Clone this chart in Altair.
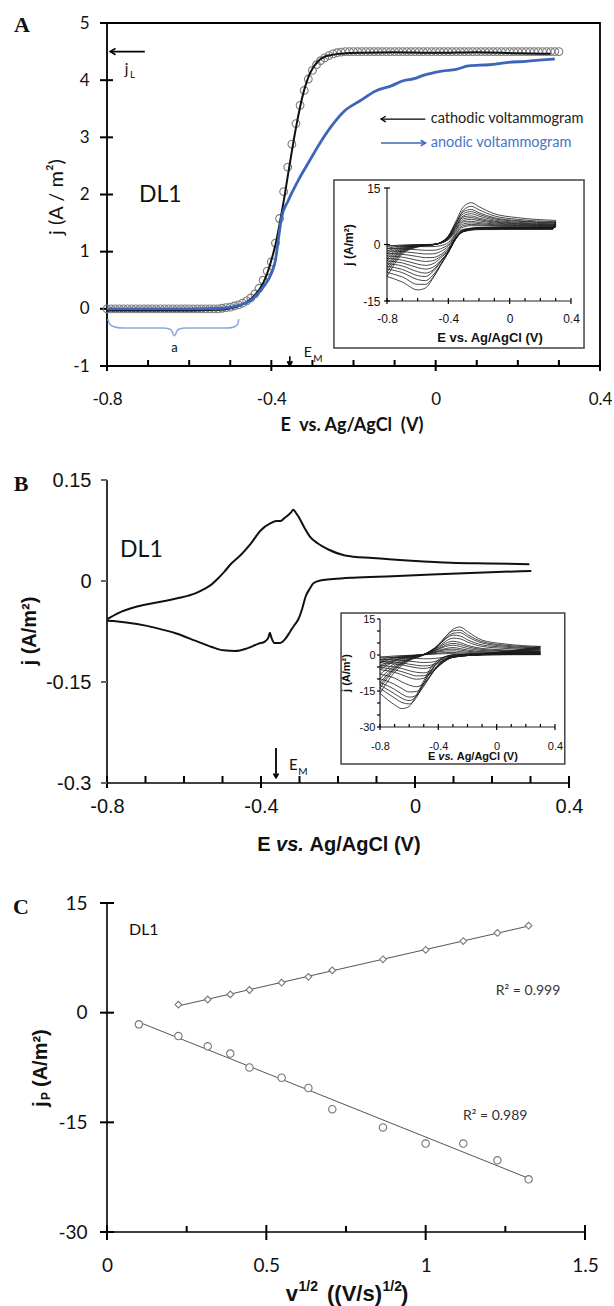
import altair as alt
import pandas as pd

W, H = 614, 1306

# ---------------- Panel A : main voltammograms ----------------
A_circle_E = [-0.80, -0.79, -0.78, -0.77, -0.76, -0.75, -0.74, -0.73, -0.72, -0.71,
              -0.70, -0.69, -0.68, -0.67, -0.66, -0.65, -0.64, -0.63, -0.62, -0.61,
              -0.60, -0.59, -0.58, -0.57, -0.56, -0.55, -0.54, -0.53, -0.52, -0.51,
              -0.50, -0.49, -0.48, -0.47, -0.46, -0.45, -0.44, -0.43, -0.42, -0.41,
              -0.40, -0.39, -0.38, -0.37, -0.36, -0.35, -0.34, -0.33, -0.32, -0.31,
              -0.30, -0.29, -0.28, -0.27, -0.26, -0.25, -0.24, -0.23, -0.22, -0.21,
              -0.20, -0.19, -0.18, -0.17, -0.16, -0.15, -0.14, -0.13, -0.12, -0.11,
              -0.10, -0.09, -0.08, -0.07, -0.06, -0.05, -0.04, -0.03, -0.02, -0.01,
              0.00, 0.01, 0.02, 0.03, 0.04, 0.05, 0.06, 0.07, 0.08, 0.09,
              0.10, 0.11, 0.12, 0.13, 0.14, 0.15, 0.16, 0.17, 0.18, 0.19,
              0.20, 0.21, 0.22, 0.23, 0.24, 0.25, 0.26, 0.27, 0.28, 0.29, 0.30]
A_circle_j = ([0.0] * 28 +
              [0.01, 0.02, 0.03, 0.05, 0.07, 0.10, 0.14, 0.19, 0.26, 0.36,
               0.50, 0.66, 0.82, 1.15, 1.58, 2.05, 2.48, 2.88, 3.24, 3.56,
               3.82, 4.02, 4.17, 4.27, 4.34, 4.39, 4.43, 4.46, 4.48, 4.49] +
              [4.5] * 53)

A_cath_E = [-0.80, -0.70, -0.60, -0.55, -0.52, -0.50, -0.48, -0.46, -0.44, -0.42,
            -0.41, -0.40, -0.39, -0.38, -0.37, -0.36, -0.35, -0.34, -0.33, -0.32,
            -0.31, -0.30, -0.29, -0.28, -0.27, -0.26, -0.24, -0.22, -0.18, -0.10,
            0.00, 0.10, 0.20, 0.28]
A_cath_j = [-0.03, -0.03, -0.03, -0.02, -0.01, 0.01, 0.05, 0.12, 0.24, 0.45,
            0.62, 0.85, 1.12, 1.48, 1.88, 2.32, 2.76, 3.17, 3.53, 3.83,
            4.05, 4.20, 4.30, 4.37, 4.41, 4.43, 4.46, 4.47, 4.48, 4.49,
            4.48, 4.49, 4.47, 4.46]

A_anod_E = [-0.80, -0.70, -0.60, -0.52, -0.48, -0.45, -0.42, -0.40, -0.39, -0.385,
            -0.375, -0.359, -0.335, -0.307, -0.278, -0.25, -0.222, -0.184, -0.146, -0.108,
            -0.079, -0.05, -0.032, 0.015, 0.05, 0.08, 0.13, 0.177, 0.22, 0.27, 0.29]
A_anod_j = [0.0, 0.0, 0.0, 0.01, 0.06, 0.15, 0.38, 0.62, 0.85, 1.10,
            1.60, 1.89, 2.24, 2.59, 2.94, 3.23, 3.46, 3.64, 3.81, 3.90,
            3.99, 4.03, 4.08, 4.16, 4.19, 4.25, 4.27, 4.31, 4.33, 4.36, 4.37]

A_brace_E = [-0.798, -0.793, -0.78, -0.76, -0.665, -0.645, -0.636, -0.627, -0.607, -0.51, -0.492, -0.482, -0.479]
A_brace_j = [-0.18, -0.27, -0.32, -0.335, -0.335, -0.36, -0.47, -0.36, -0.335, -0.335, -0.32, -0.27, -0.18]

# ---------------- Inset A : CVs at several scan rates ----------------
IA_an_E = [-0.8, -0.7, -0.6, -0.5, -0.45, -0.4, -0.35, -0.3, -0.25, -0.2, -0.1, 0.05, 0.3]
IA_an_j = [
    [-0.39, -0.12, -0.03, 0.04, 0.33, 1.26, 3.16, 4.67, 5.01, 4.96, 4.84, 4.72, 4.63],
    [-1.04, -0.31, -0.08, 0.03, 0.38, 1.41, 3.47, 5.06, 5.34, 5.22, 5.03, 4.87, 4.74],
    [-1.69, -0.51, -0.14, 0.02, 0.38, 1.46, 3.71, 5.50, 5.75, 5.53, 5.24, 5.03, 4.86],
    [-2.34, -0.70, -0.19, 0.00, 0.43, 1.62, 4.07, 6.00, 6.16, 5.86, 5.47, 5.19, 4.97],
    [-3.04, -0.91, -0.24, -0.01, 0.43, 1.68, 4.26, 6.39, 6.69, 6.30, 5.72, 5.36, 5.09],
    [-3.70, -1.11, -0.30, -0.02, 0.47, 1.82, 4.59, 6.87, 7.13, 6.65, 5.95, 5.53, 5.21],
    [-4.36, -1.31, -0.35, -0.03, 0.51, 1.96, 4.92, 7.35, 7.58, 7.00, 6.19, 5.69, 5.32],
    [-5.09, -1.53, -0.41, -0.05, 0.48, 1.94, 5.02, 7.65, 8.17, 7.53, 6.49, 5.90, 5.48],
    [-5.76, -1.73, -0.46, -0.06, 0.52, 2.08, 5.38, 8.21, 8.73, 8.00, 6.83, 6.17, 5.70],
    [-6.50, -1.95, -0.52, -0.07, 0.55, 2.23, 5.74, 8.76, 9.29, 8.43, 7.11, 6.35, 5.82],
    [-7.41, -2.22, -0.59, -0.09, 0.49, 2.05, 5.68, 9.20, 10.14, 9.22, 7.59, 6.69, 6.05],
    [-8.49, -2.55, -0.68, -0.11, 0.54, 2.25, 6.22, 10.10, 11.11, 10.04, 8.16, 7.13, 6.39],
]
IA_ca_E = [0.3, 0.28, 0.0, -0.2, -0.3, -0.35, -0.4, -0.45, -0.5, -0.55, -0.6, -0.7, -0.8]
IA_ca_j = [
    [4.63, 4.5, 4.5, 4.45, 4.05, 2.81, 0.53, -0.31, -0.55, -0.57, -0.51, -0.42, -0.39],
    [4.74, 4.5, 4.5, 4.45, 3.93, 2.52, -0.01, -1.11, -1.53, -1.54, -1.39, -1.14, -1.04],
    [4.86, 4.5, 4.5, 4.45, 3.85, 2.32, -0.43, -1.85, -2.47, -2.52, -2.31, -1.87, -1.69],
    [4.97, 4.4, 4.4, 4.35, 3.65, 1.98, -0.96, -2.66, -3.45, -3.49, -3.20, -2.59, -2.34],
    [5.09, 4.4, 4.4, 4.35, 3.64, 1.89, -1.28, -3.14, -4.28, -4.51, -4.19, -3.36, -3.04],
    [5.21, 4.4, 4.4, 4.35, 3.66, 1.89, -1.53, -3.59, -5.11, -5.54, -5.21, -4.14, -3.70],
    [5.32, 4.3, 4.3, 4.25, 3.50, 1.63, -1.98, -4.27, -6.03, -6.53, -6.14, -4.88, -4.36],
    [5.48, 4.3, 4.3, 4.25, 3.58, 1.74, -1.80, -4.49, -6.80, -7.60, -7.22, -5.70, -5.09],
    [5.70, 4.2, 4.2, 4.15, 3.52, 1.69, -1.83, -4.69, -7.18, -8.51, -8.26, -6.62, -5.76],
    [5.82, 4.2, 4.2, 4.15, 3.47, 1.55, -2.17, -5.32, -8.11, -9.60, -9.31, -7.47, -6.50],
    [6.05, 4.1, 4.1, 4.05, 3.44, 1.55, -2.12, -5.35, -8.68, -10.57, -10.57, -8.61, -7.41],
    [6.39, 4.0, 4.0, 3.95, 3.43, 1.57, -2.03, -5.56, -8.94, -11.56, -12.05, -9.96, -8.49],
]

# ---------------- Panel B : slow-scan CV ----------------
B_fwd_E = [-0.800, -0.772, -0.722, -0.671, -0.620, -0.569, -0.548, -0.528, -0.513, -0.495,
           -0.477, -0.452, -0.426, -0.401, -0.375, -0.360, -0.350, -0.340, -0.329, -0.322,
           -0.316, -0.309, -0.302, -0.289, -0.273, -0.253, -0.222, -0.182, -0.110, -0.009,
           0.093, 0.195, 0.297]
B_fwd_j = [-0.057, -0.048, -0.038, -0.032, -0.026, -0.018, -0.012, -0.005, 0.003, 0.014,
           0.026, 0.039, 0.056, 0.075, 0.086, 0.089, 0.089, 0.093, 0.098, 0.102,
           0.106, 0.101, 0.095, 0.081, 0.066, 0.056, 0.046, 0.038, 0.034, 0.030,
           0.027, 0.026, 0.025]
B_rev_E = [0.302, 0.144, -0.059, -0.161, -0.212, -0.243, -0.263, -0.273, -0.284, -0.294,
           -0.304, -0.314, -0.324, -0.337, -0.350, -0.365, -0.373, -0.377, -0.381, -0.390,
           -0.406, -0.436, -0.467, -0.497, -0.528, -0.569, -0.620, -0.671, -0.722, -0.772, -0.800]
B_rev_j = [0.015, 0.012, 0.007, 0.005, 0.003, 0.001, -0.003, -0.011, -0.023, -0.043,
           -0.058, -0.066, -0.075, -0.086, -0.092, -0.092, -0.084, -0.077, -0.084, -0.090,
           -0.093, -0.100, -0.104, -0.103, -0.098, -0.089, -0.078, -0.070, -0.064, -0.060, -0.059]

# ---------------- Inset B : CVs at several scan rates ----------------
IB_ca_E = [0.3, -0.1, -0.3, -0.4, -0.45, -0.5, -0.55, -0.6, -0.65, -0.7, -0.8]
IB_ca_j = [
    [0.17, 0.03, -0.43, -1.28, -1.55, -1.57, -1.42, -1.25, -1.10, -1.01, -0.88],
    [0.32, 0.05, -0.74, -2.34, -3.01, -3.14, -2.91, -2.56, -2.24, -2.05, -1.79],
    [0.52, 0.08, -0.87, -3.13, -4.23, -4.55, -4.28, -3.82, -3.31, -2.99, -2.58],
    [0.73, 0.11, -0.84, -3.47, -5.04, -5.60, -5.32, -4.76, -4.09, -3.70, -3.19],
    [0.90, 0.14, -0.98, -4.28, -6.45, -7.43, -7.20, -6.53, -5.63, -5.03, -4.35],
    [1.19, 0.18, -0.98, -4.54, -7.12, -8.63, -8.72, -7.92, -6.94, -6.14, -5.16],
    [1.42, 0.21, -0.93, -4.84, -7.52, -9.68, -10.09, -9.37, -8.24, -7.21, -6.08],
    [1.68, 0.25, -0.66, -4.62, -8.18, -11.88, -13.20, -12.54, -11.22, -9.64, -8.05],
    [2.19, 0.33, -0.47, -4.24, -8.01, -12.56, -15.23, -15.39, -13.97, -12.25, -9.89],
    [2.58, 0.39, -0.36, -4.12, -8.41, -13.07, -16.83, -17.54, -16.29, -14.32, -11.46],
    [2.94, 0.44, 0.00, -2.85, -6.65, -11.78, -17.10, -19.00, -18.05, -16.15, -12.54],
    [3.27, 0.49, 0.00, -2.68, -6.39, -11.74, -17.72, -20.39, -19.78, -17.92, -13.80],
    [3.57, 0.54, 0.00, -2.05, -5.24, -10.72, -16.64, -21.43, -22.34, -20.75, -15.96],
]
IB_an_E = [-0.8, -0.7, -0.6, -0.5, -0.4, -0.35, -0.3, -0.25, -0.2, -0.1, 0.05, 0.3]
IB_an_j = [
    [-0.88, -0.40, -0.13, 0.09, 0.46, 0.57, 0.56, 0.44, 0.35, 0.26, 0.22, 0.17],
    [-1.79, -0.81, -0.27, 0.13, 0.77, 1.01, 1.07, 0.86, 0.67, 0.50, 0.40, 0.32],
    [-2.58, -1.16, -0.39, 0.23, 1.26, 1.66, 1.75, 1.40, 1.10, 0.81, 0.65, 0.52],
    [-3.19, -1.44, -0.48, 0.23, 1.60, 2.25, 2.43, 2.05, 1.58, 1.13, 0.93, 0.73],
    [-4.35, -1.96, -0.65, 0.18, 1.80, 2.70, 3.10, 2.67, 2.05, 1.43, 1.15, 0.90],
    [-5.16, -2.32, -0.77, 0.26, 2.38, 3.57, 4.10, 3.53, 2.71, 1.89, 1.52, 1.19],
    [-6.08, -2.74, -0.91, 0.26, 2.55, 4.12, 4.85, 4.36, 3.43, 2.30, 1.81, 1.42],
    [-8.05, -3.62, -1.21, 0.28, 3.02, 4.87, 5.74, 5.16, 4.06, 2.73, 2.15, 1.68],
    [-9.89, -4.45, -1.48, 0.21, 3.36, 5.69, 7.01, 6.72, 5.40, 3.58, 2.77, 2.19],
    [-11.46, -5.16, -1.72, 0.26, 3.96, 6.71, 8.26, 7.91, 6.36, 4.21, 3.27, 2.58],
    [-12.54, -5.64, -1.88, 0.11, 3.92, 6.86, 9.02, 9.31, 7.64, 5.00, 3.72, 2.94],
    [-13.80, -6.21, -2.07, 0.13, 4.36, 7.63, 10.03, 10.36, 8.50, 5.56, 4.14, 3.27],
    [-15.96, -7.18, -2.39, 0.00, 3.93, 7.62, 10.71, 11.66, 9.76, 6.19, 4.64, 3.57],
]

# ---------------- Panel C : peak current vs sqrt(scan rate) ----------------
C_x_cat = [0.1, 0.224, 0.316, 0.387, 0.447, 0.548, 0.632, 0.707, 0.866, 1.0, 1.118, 1.225, 1.323]
C_j_cat = [-1.6, -3.2, -4.6, -5.6, -7.5, -8.9, -10.3, -13.2, -15.7, -17.9, -17.9, -20.2, -22.8]
C_x_an = [0.224, 0.316, 0.387, 0.447, 0.548, 0.632, 0.707, 0.866, 1.0, 1.118, 1.225, 1.323]
C_j_an = [1.1, 1.8, 2.5, 3.1, 4.1, 4.9, 5.8, 7.3, 8.6, 9.8, 10.9, 11.9]

# tick positions
A_major = [-0.8, -0.4, 0, 0.4]
A_minor = [-0.7, -0.6, -0.5, -0.3, -0.2, -0.1, 0.1, 0.2, 0.3]
A_yvals = [-1, 0, 1, 2, 3, 4, 5]
B_yvals = [-0.3, -0.15, 0, 0.15]
C_major = [0, 0.5, 1, 1.5]
C_minor = [0.25, 0.75, 1.25]
C_yvals = [-30, -15, 0, 15]
IA_yvals = [-15, 0, 15]
IB_yvals = [-30, -15, 0, 15]
IB_yminor = [-25, -20, -10, -5, 5, 10]


# ================= helpers =================
class Panel:
    def __init__(self, xdom, xrng, ydom, yrng):
        self.xs = alt.Scale(domain=xdom, range=xrng, nice=False, zero=False)
        self.ys = alt.Scale(domain=ydom, range=yrng, nice=False, zero=False)
        # pixels per data unit (for tick lengths)
        self.px = (xrng[1] - xrng[0]) / (xdom[1] - xdom[0])
        self.py = (yrng[0] - yrng[1]) / (ydom[1] - ydom[0])


PA = Panel([-0.8, 0.4], [107, 600], [-1, 5], [366, 23])
PB = Panel([-0.8, 0.4], [107, 569], [-0.3, 0.15], [783, 480])
PC = Panel([0, 1.5], [107, 585], [-30, 15], [1232, 903])
PIA = Panel([-0.8, 0.4], [387, 571], [-15, 15], [301, 188])
PIB = Panel([-0.8, 0.4], [380, 555], [-30, 15], [727, 619])

LBL = "'' + datum.value"
CAL = "Lato"
ARI = "Liberation Sans"
TW = 2.0   # main tick width


def ax_bottom(y_line, values, pad, font=CAL, size=17):
    return alt.Axis(orient="bottom", offset=y_line - H, values=values, domain=False, grid=False,
                    title=None, ticks=False, labels=True, zindex=2, labelExpr=LBL,
                    labelFont=font, labelFontSize=size, labelPadding=pad, labelColor="#111111",
                    labelFlush=False, labelOverlap=False)


def ax_left(x_line, values, pad, font=CAL, size=17):
    return alt.Axis(orient="left", offset=-x_line, values=values, domain=False, grid=False,
                    title=None, ticks=False, labels=True, zindex=2, labelExpr=LBL,
                    labelFont=font, labelFontSize=size, labelPadding=pad, labelColor="#111111",
                    labelFlush=False, labelOverlap=False)


def XY(p, xaxis=None, yaxis=None):
    return dict(x=alt.X("x:Q", scale=p.xs, axis=xaxis),
                y=alt.Y("y:Q", scale=p.ys, axis=yaxis))


def rule(p, x, y, x2=None, y2=None, color="black", width=1.5):
    d = {"x": [x], "y": [y]}
    enc = XY(p)
    if x2 is not None:
        d["x2"] = [x2]
        enc["x2"] = "x2:Q"
    if y2 is not None:
        d["y2"] = [y2]
        enc["y2"] = "y2:Q"
    return alt.Chart(pd.DataFrame(d)).mark_rule(color=color, strokeWidth=width).encode(**enc)


def xticks(p, vals, at, up, down, color="black", width=TW):
    d = pd.DataFrame({"x": vals, "y": [at + up / p.py] * len(vals),
                      "y2": [at - down / p.py] * len(vals)})
    return alt.Chart(d).mark_rule(color=color, strokeWidth=width).encode(y2="y2:Q", **XY(p))


def yticks(p, vals, at, left, right, color="black", width=TW):
    d = pd.DataFrame({"y": vals, "x": [at - left / p.px] * len(vals),
                      "x2": [at + right / p.px] * len(vals)})
    return alt.Chart(d).mark_rule(color=color, strokeWidth=width).encode(x2="x2:Q", **XY(p))


def box(p, x, x2, y, y2, fill="white", fo=1.0, stroke="black", width=1.5, xaxis=None, yaxis=None):
    d = pd.DataFrame({"x": [x], "x2": [x2], "y": [y], "y2": [y2]})
    return alt.Chart(d).mark_rect(fill=fill, fillOpacity=fo, stroke=stroke,
                                  strokeWidth=width).encode(
        x2="x2:Q", y2="y2:Q", **XY(p, xaxis=xaxis, yaxis=yaxis))


def dtext(p, s, x, y, **kw):
    base = dict(font=CAL, fontSize=14, align="left", baseline="middle", color="#111111")
    base.update(kw)
    return alt.Chart(pd.DataFrame({"x": [x], "y": [y]})).mark_text(text=s, **base).encode(**XY(p))


ONE = pd.DataFrame({"d": [0]})


def ptext(s, x, y, **kw):
    base = dict(font=ARI, fontSize=14, align="center", baseline="middle", color="#111111")
    base.update(kw)
    return alt.Chart(ONE).mark_text(text=s, **base).encode(x=alt.value(x), y=alt.value(y))


LEFT = "M 1 -0.6 L 0 0 L 1 0.6"
RIGHT = "M -1 -0.6 L 0 0 L -1 0.6"
DOWN = "M -0.6 -1 L 0 0 L 0.6 -1"


def head(p, x, y, shape, size=120, color="black", width=1.5):
    return alt.Chart(pd.DataFrame({"x": [x], "y": [y]})).mark_point(
        shape=shape, size=size, filled=False, color=color, strokeWidth=width, opacity=1
    ).encode(**XY(p))


def curves(E_an, J_an, E_ca, J_ca):
    rows = []
    for k, js in enumerate(J_an):
        for e, j in zip(E_an, js):
            rows.append({"x": e, "y": j, "id": f"a{k}"})
    for k, js in enumerate(J_ca):
        for e, j in zip(E_ca, js):
            rows.append({"x": e, "y": j, "id": f"c{k}"})
    return pd.DataFrame(rows)


def vs_title(xc_vs, y, size, half_gap, color="#111111"):
    return [
        ptext("E", xc_vs - half_gap, y, fontSize=size, fontWeight="bold", align="right", color=color),
        ptext("vs.", xc_vs, y, fontSize=size, fontWeight="bold", fontStyle="italic", align="center",
              color=color),
        ptext("Ag/AgCl (V)", xc_vs + half_gap, y, fontSize=size, fontWeight="bold", align="left",
              color=color),
    ]


L = []
NB = "\u00a0"

# ================= Panel A =================
L.append(box(PA, -0.8, 0.4, -1, 5, fill="white", fo=0, stroke="black", width=1.8,
             xaxis=ax_bottom(366, A_major, 25, CAL, 17),
             yaxis=ax_left(107, A_yvals, 18, CAL, 17)))
L.append(xticks(PA, A_major, -1, 6, 5))
L.append(xticks(PA, A_minor, -1, 6, 0))
L.append(yticks(PA, A_yvals, -0.8, 7, 6))
dfA_c = pd.DataFrame({"x": A_circle_E, "y": A_circle_j})
L.append(alt.Chart(dfA_c).mark_point(shape="circle", filled=False, size=60, color="#7d7d7d",
                                     strokeWidth=1.1, opacity=1).encode(**XY(PA)))
L.append(alt.Chart(pd.DataFrame({"x": A_cath_E, "y": A_cath_j})).mark_line(
    color="#111111", strokeWidth=2, interpolate="monotone").encode(**XY(PA)))
L.append(alt.Chart(pd.DataFrame({"x": A_anod_E, "y": A_anod_j})).mark_line(
    color="#3d66b9", strokeWidth=2.8, interpolate="monotone").encode(**XY(PA)))
L.append(alt.Chart(pd.DataFrame({"x": A_brace_E, "y": A_brace_j})).mark_line(
    color="#8aaadc", strokeWidth=1.6, interpolate="monotone").encode(**XY(PA)))
L.append(dtext(PA, "a", -0.636, -0.68, fontSize=13, align="center"))
L.append(dtext(PA, "DL1", -0.722, 2.0, fontSize=23))
# j_L arrow
L.append(rule(PA, -0.792, 4.5, x2=-0.708, width=1.6))
L.append(head(PA, -0.792, 4.5, LEFT, size=110, width=1.6))
L.append(dtext(PA, "j", -0.757, 4.2, fontSize=15))
L.append(dtext(PA, "L", -0.744, 4.09, fontSize=10))
# legend-like arrows
L.append(rule(PA, -0.133, 3.32, x2=-0.025, width=1.3))
L.append(head(PA, -0.133, 3.32, LEFT, size=90, width=1.3))
L.append(dtext(PA, "cathodic voltammogram", -0.012, 3.32, fontSize=14.5, color="#222222"))
L.append(rule(PA, -0.133, 2.90, x2=-0.025, color="#3d66b9", width=1.6))
L.append(head(PA, -0.025, 2.90, RIGHT, size=90, color="#3d66b9", width=1.6))
L.append(dtext(PA, "anodic voltammogram", -0.012, 2.90, fontSize=14.5, color="#4a74c6"))
# E_M marker
L.append(rule(PA, -0.355, -0.83, y2=-0.985, width=1.6))
L.append(head(PA, -0.355, -0.985, DOWN, size=60, width=2.2))
L.append(dtext(PA, "E", -0.321, -0.77, fontSize=14))
L.append(dtext(PA, "M", -0.298, -0.88, fontSize=10))

# ---- Inset A ----
L.append(box(PIA, -1.146, 0.485, -27.5, 17.1, fill="white", fo=1, stroke="#444444", width=1.5))
L.append(rule(PIA, -0.8, -15, y2=15, color="#222222", width=1.2))
L.append(rule(PIA, -0.8, -15, x2=0.4, color="#222222", width=1.2))
L.append(xticks(PIA, A_major, -15, 3, 3, width=1.2))
L.append(xticks(PIA, A_minor, -15, 3, 0, width=1.2))
L.append(yticks(PIA, IA_yvals, -0.8, 3, 3, width=1.2))
L.append(alt.Chart(curves(IA_an_E, IA_an_j, IA_ca_E, IA_ca_j)).mark_line(
    color="#1a1a1a", strokeWidth=0.8, interpolate="monotone").encode(
    detail="id:N",
    **XY(PIA, xaxis=ax_bottom(301, A_major, 12, ARI, 12),
         yaxis=ax_left(387, IA_yvals, 7, ARI, 12))))
L.append(ptext("E vs. Ag/AgCl  (V)", 490, 338, fontSize=13, fontWeight="bold"))
L.append(ptext("j (A/m²)", 349, 245, fontSize=12, fontWeight="bold", angle=270))

# ================= Panel B =================
L.append(rule(PB, -0.8, -0.3, y2=0.15, width=1.6))
L.append(rule(PB, -0.8, -0.3, x2=0.4, width=1.6))
L.append(xticks(PB, A_major, -0.3, 7, 5))
L.append(xticks(PB, A_minor, -0.3, 7, 0))
L.append(yticks(PB, B_yvals, -0.8, 6, 0, color="#666666"))
L.append(alt.Chart(pd.DataFrame({"x": B_fwd_E, "y": B_fwd_j})).mark_line(
    color="#111111", strokeWidth=2, interpolate="monotone").encode(
    **XY(PB, xaxis=ax_bottom(783, A_major, 13, ARI, 20),
         yaxis=ax_left(107, B_yvals, 16, ARI, 20))))
L.append(alt.Chart(pd.DataFrame({"x": B_rev_E, "y": B_rev_j})).mark_line(
    color="#111111", strokeWidth=2, interpolate="monotone").encode(**XY(PB)))
L.append(dtext(PB, "DL1", -0.766, 0.046, fontSize=23))
L.append(rule(PB, -0.361, -0.248, y2=-0.292, width=1.8))
L.append(head(PB, -0.361, -0.292, DOWN, size=70, width=1.8))
L.append(dtext(PB, "E", -0.327, -0.274, fontSize=15))
L.append(dtext(PB, "M", -0.303, -0.284, fontSize=10))

# ---- Inset B ----
L.append(box(PIB, -1.067, 0.467, -45.4, 17.5, fill="white", fo=1, stroke="#444444", width=1.5))
L.append(rule(PIB, -0.8, -30, y2=15, color="#222222", width=1.2))
L.append(rule(PIB, -0.8, -30, x2=0.4, color="#222222", width=1.2))
L.append(xticks(PIB, A_major, -30, 3, 3, width=1.2))
L.append(xticks(PIB, A_minor, -30, 3, 0, width=1.2))
L.append(yticks(PIB, IB_yvals, -0.8, 3, 0, width=1.2))
L.append(yticks(PIB, IB_yminor, -0.8, 3, 0, width=1.2))
L.append(alt.Chart(curves(IB_an_E, IB_an_j, IB_ca_E, IB_ca_j)).mark_line(
    color="#1a1a1a", strokeWidth=0.8, interpolate="monotone").encode(
    detail="id:N",
    **XY(PIB, xaxis=ax_bottom(727, A_major, 13, ARI, 11),
         yaxis=ax_left(380, IB_yvals, 5, ARI, 11))))
L.extend(vs_title(446, 757, 11, 10.7))
L.append(ptext("j (A/m²)", 347, 673, fontSize=11, fontWeight="bold", angle=270))

# ================= Panel C =================
L.append(rule(PC, 0, -30, y2=15, width=1.6))
L.append(rule(PC, 0, -30, x2=1.5, width=1.6))
L.append(xticks(PC, C_major, -30, 7, 8))
L.append(xticks(PC, C_minor, -30, 6, 0))
L.append(yticks(PC, C_yvals, 0, 7, 7))
dfC_cat = pd.DataFrame({"x": C_x_cat, "y": C_j_cat})
dfC_an = pd.DataFrame({"x": C_x_an, "y": C_j_an})
L.append(alt.Chart(dfC_cat).transform_regression("x", "y").mark_line(
    color="#555555", strokeWidth=1).encode(**XY(PC)))
L.append(alt.Chart(dfC_an).transform_regression("x", "y").mark_line(
    color="#555555", strokeWidth=1).encode(**XY(PC)))
L.append(alt.Chart(dfC_cat).mark_point(shape="circle", filled=True, fill="white", size=55,
                                       stroke="#777777", strokeWidth=1.1, opacity=1).encode(
    **XY(PC, xaxis=ax_bottom(1232, C_major, 24, CAL, 19),
         yaxis=ax_left(107, C_yvals, 20, CAL, 19))))
L.append(alt.Chart(dfC_an).mark_point(shape="diamond", filled=True, fill="white", size=45,
                                      stroke="#777777", strokeWidth=1.1, opacity=1).encode(**XY(PC)))
L.append(dtext(PC, "DL1", 0.069, 11.3, fontSize=16))
L.append(dtext(PC, "R² = 0.999", 1.22, 3.0, fontSize=14, color="#333333"))
L.append(dtext(PC, "R² = 0.989", 1.117, -14.2, fontSize=14, color="#333333"))

# ================= titles & panel letters =================
SERIF = "Liberation Serif"
L.append(ptext("A", 22, 25, font=SERIF, fontSize=22, fontWeight="bold"))
L.append(ptext("B", 21, 484, font=SERIF, fontSize=22, fontWeight="bold"))
L.append(ptext("C", 21, 907, font=SERIF, fontSize=22, fontWeight="bold"))

L.append(ptext("j (A / m²)", 57, 197, font=CAL, fontSize=20, angle=270))
L.append(ptext("E" + NB + NB + "vs. Ag/AgCl" + NB + NB + "(V)", 352, 426, font=CAL,
               fontSize=18, fontWeight="bold"))

L.append(ptext("j" + NB + "(A/m²)", 30, 631, fontSize=20, fontWeight="bold", angle=270))
L.extend(vs_title(290, 845, 20, 19.5))

L.append(ptext("j", 41, 1107, fontSize=20, fontWeight="bold", angle=270, align="left"))
L.append(ptext("P", 46, 1100, fontSize=12, fontWeight="bold", angle=270, align="left"))
L.append(ptext("(A/m²)", 41, 1087, fontSize=20, fontWeight="bold", angle=270, align="left"))

L.append(ptext("v", 298, 1301, fontSize=22, fontWeight="bold", align="right", baseline="alphabetic"))
L.append(ptext("1/2", 298.5, 1291, fontSize=14, fontWeight="bold", align="left", baseline="alphabetic"))
L.append(ptext("((V/s)", 382, 1301, fontSize=22, fontWeight="bold", align="right",
               baseline="alphabetic"))
L.append(ptext("1/2", 382.5, 1291, fontSize=14, fontWeight="bold", align="left", baseline="alphabetic"))
L.append(ptext(")", 401, 1301, fontSize=22, fontWeight="bold", align="left", baseline="alphabetic"))

chart = alt.layer(*L).resolve_scale(x="independent", y="independent").properties(
    width=W, height=H, padding=0, background="white",
    autosize=alt.AutoSizeParams(type="none"),
).configure_view(strokeWidth=0)

chart.save("out.html", embed_options={"renderer": "svg", "actions": False})
